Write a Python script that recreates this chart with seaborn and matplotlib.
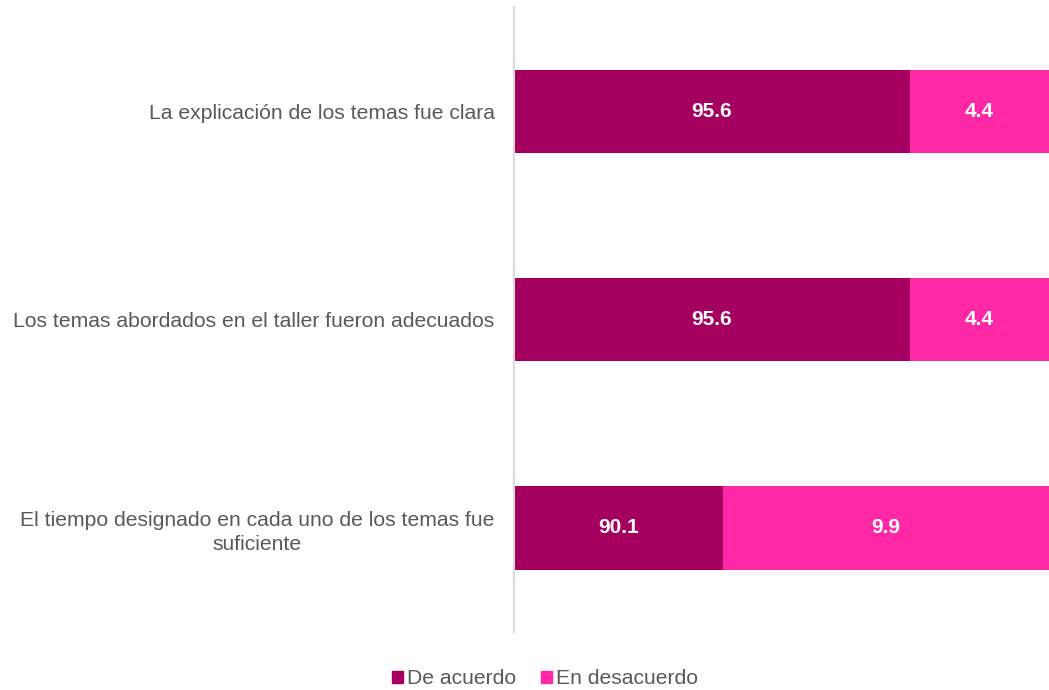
import matplotlib
matplotlib.use('Agg')
import matplotlib.pyplot as plt
import matplotlib.patches as mpatches
import seaborn as sns
import pandas as pd

temas = ['La explicación de los temas fue clara',
         'Los temas abordados en el taller fueron adecuados',
         'El tiempo designado en cada uno de los temas fue\nsuficiente']
# printed values
label_acuerdo = [95.6, 95.6, 90.1]
label_desacuerdo = [4.4, 4.4, 9.9]
# segment lengths as drawn in the picture (share of the bar, %)
largo_acuerdo = [74.0, 74.0, 39.0]
largo_desacuerdo = [26.0, 26.0, 61.0]

dark = '#A5005F'
pink = '#FF29A8'
gray = '#595959'

sns.set_style('white')
plt.rcParams['font.family'] = ['Liberation Sans', 'DejaVu Sans']

df = pd.DataFrame({'tema': temas, 'acuerdo': largo_acuerdo,
                   'desacuerdo': largo_desacuerdo})
df['total'] = df['acuerdo'] + df['desacuerdo']

fig = plt.figure(figsize=(10.49, 6.9), dpi=100)
ax = fig.add_axes([514/1049, 1-632/690, 1-514/1049, 625/690])

sns.barplot(data=df, x='total', y='tema', color=pink, width=0.4, ax=ax,
            saturation=1, linewidth=0)
sns.barplot(data=df, x='acuerdo', y='tema', color=dark, width=0.4, ax=ax,
            saturation=1, linewidth=0)

for i, row in df.iterrows():
    ax.text(row['acuerdo']/2, i, f'{label_acuerdo[i]:.1f}', color='white',
            fontsize=15, fontweight='bold', ha='center', va='center')
    ax.text(row['acuerdo'] + row['desacuerdo']/2, i, f'{label_desacuerdo[i]:.1f}',
            color='white', fontsize=15, fontweight='bold', ha='center', va='center')

ax.set_xlim(0, 100)
ax.set_ylim(2.5, -0.5)
ax.set_xlabel('')
ax.set_ylabel('')
ax.set_xticks([])
ax.tick_params(axis='y', length=0, pad=14, labelsize=15.2, labelcolor=gray)
for lab in ax.get_yticklabels():
    lab.set_multialignment('center')
    lab.set_linespacing(1.35)
for s in ['top', 'right', 'bottom']:
    ax.spines[s].set_visible(False)
ax.spines['left'].set_color('#D9D9D9')
ax.spines['left'].set_linewidth(1.5)

handles = [mpatches.Patch(color=dark, label='De acuerdo'),
           mpatches.Patch(color=pink, label='En desacuerdo')]
fig.legend(handles=handles, loc='lower center', bbox_to_anchor=(545/1049, -0.025),
           ncol=2, frameon=False, fontsize=15.2, handlelength=0.5, handleheight=0.5,
           handletextpad=0.2, columnspacing=1.2, labelcolor=gray)

fig.savefig('out.png', dpi=100)
